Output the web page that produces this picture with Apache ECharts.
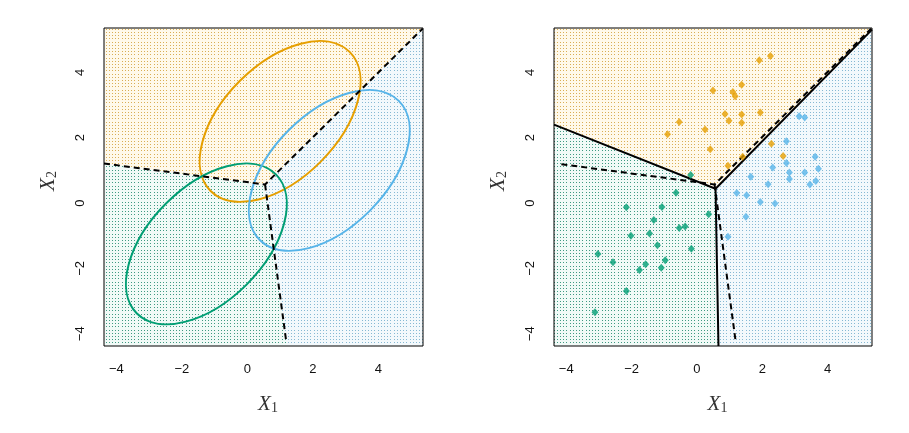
<!DOCTYPE html>
<html><head><meta charset="utf-8">
<script src="https://cdn.jsdelivr.net/npm/echarts@6/dist/echarts.min.js"></script>
<style>html,body{margin:0;padding:0;background:#fff}#c{width:909px;height:433px}</style>
</head><body><div id="c"></div>
<script>
// ---------- data ----------
const AXIS_MIN = -4.375, AXIS_MAX = 5.36;
const tickValues = [-4, -2, 0, 2, 4];

const ORANGE = '#E69F00', GREEN = '#009E73', BLUE = '#56B4E9';

// Left panel: class density contours (centers: orange, green, blue)
const ellipseCenters = [[1.0, 2.5], [-1.25, -1.25], [2.5, 1.0]];
const ellipseColors = [ORANGE, GREEN, BLUE];
const ellipseSemiAxes = [3.0, 1.75];   // major, minor (data units)
const ellipseTiltDeg = 45;

// Bayes decision boundaries (dashed)
const bayesUpperA = [[-4.375, 1.21], [0.54, 0.57], [5.35, 5.34]];
const bayesDownA  = [[0.54, 0.57], [1.18, -4.19]];
const bayesUpperB = [[-4.15, 1.19], [0.54, 0.57], [5.33, 5.34]];
const bayesDownB  = [[0.54, 0.57], [1.18, -4.19]];

// LDA decision boundaries (solid, right panel)
const ldaUpper = [[-4.375, 2.40], [0.57, 0.44], [5.36, 5.31]];
const ldaDown  = [[0.57, 0.44], [0.66, -4.375]];

// Region polygons, left panel (Bayes)
const regionOrangeA = [[-4.375, 5.36], [-4.375, 1.21], [0.54, 0.57], [5.36, 5.36]];
const regionGreenA  = [[-4.375, 1.21], [0.54, 0.57], [1.205, -4.375], [-4.375, -4.375]];
const regionBlueA   = [[0.54, 0.57], [5.36, 5.36], [5.36, -4.375], [1.205, -4.375]];
// Region polygons, right panel (LDA)
const regionOrangeB = [[-4.375, 5.36], [-4.375, 2.40], [0.57, 0.44], [5.36, 5.31], [5.36, 5.36]];
const regionGreenB  = [[-4.375, 2.40], [0.57, 0.44], [0.66, -4.375], [-4.375, -4.375]];
const regionBlueB   = [[0.57, 0.44], [5.36, 5.31], [5.36, -4.375], [0.66, -4.375]];

// Observations, right panel
const orangePts = [[2.25,4.50],[1.91,4.37],[0.49,3.45],[1.10,3.40],[1.17,3.27],[1.37,3.62],
  [-0.54,2.48],[0.86,2.73],[0.98,2.52],[1.37,2.71],[1.37,2.46],[1.94,2.77],[-0.90,2.11],
  [0.25,2.25],[0.41,1.65],[2.28,1.82],[2.64,1.44],[0.95,1.14],[1.40,1.42]];
const greenPts = [[-0.19,0.86],[-0.64,0.32],[-2.16,-0.13],[-1.07,-0.12],[0.36,-0.34],
  [-1.32,-0.52],[-1.45,-0.93],[-2.02,-1.00],[-0.54,-0.76],[-0.36,-0.72],[-1.21,-1.29],
  [-0.17,-1.40],[-3.03,-1.56],[-2.57,-1.81],[-1.57,-1.87],[-0.97,-1.75],[-1.76,-2.05],
  [-1.09,-1.98],[-2.16,-2.69],[-3.12,-3.34]];
const bluePts = [[3.13,2.66],[3.30,2.62],[2.74,1.89],[3.62,1.42],[2.32,1.09],[2.74,1.23],
  [2.83,0.94],[2.83,0.74],[3.30,0.94],[3.72,1.05],[3.64,0.68],[3.46,0.57],[1.65,0.81],
  [2.18,0.58],[1.22,0.31],[1.52,0.24],[1.94,0.03],[2.39,-0.01],[1.50,-0.42],[0.95,-1.03]];

// ---------- styling helpers ----------
function makePattern(bg, dot) {
  const c = document.createElement('canvas');
  c.width = 16; c.height = 16;
  const g = c.getContext('2d');
  g.fillStyle = bg; g.fillRect(0, 0, 16, 16);
  g.fillStyle = dot;
  const offs = [0, 3, 6, 10, 13];
  for (const a of offs) for (const b of offs) g.fillRect(a, b, 1, 1);
  return { image: c, repeat: 'repeat' };
}
const patOrange = makePattern('#fff9ea', '#d9ae55');
const patGreen  = makePattern('#f1faf7', '#3f9a82');
const patBlue   = makePattern('#f3f9fc', '#86b9d3');

function regionSeries(gi, verts, fill) {
  return {
    type: 'custom', xAxisIndex: gi, yAxisIndex: gi, silent: true, z: 1, animation: false,
    data: verts, encode: { x: 0, y: 1 },
    renderItem(params, api) {
      if (params.dataIndex !== 0) return null;
      return { type: 'polygon', shape: { points: verts.map(v => api.coord(v)) },
               style: { fill: fill, stroke: null } };
    }
  };
}
function lineSeries(gi, pts, dashed) {
  return {
    type: 'line', xAxisIndex: gi, yAxisIndex: gi, data: pts, symbol: 'none', silent: true,
    animation: false, z: 4,
    lineStyle: { color: '#000', width: 2, type: dashed ? [6, 4] : 'solid' }
  };
}
function scatterSeries(pts, color) {
  return {
    type: 'scatter', xAxisIndex: 1, yAxisIndex: 1, data: pts, symbol: 'diamond',
    symbolSize: [7, 8], itemStyle: { color: color }, z: 5, animation: false, silent: true
  };
}
const richName = {
  i: { fontFamily: 'Liberation Serif', fontStyle: 'italic', fontSize: 21, color: '#333', lineHeight: 26, verticalAlign: 'bottom' },
  s: { fontFamily: 'Liberation Serif', fontSize: 14, color: '#333', lineHeight: 14, verticalAlign: 'bottom' }
};
function fmt(v) { return String(v).replace('-', '\u2212'); }
function xAxis(gi) {
  return {
    type: 'value', gridIndex: gi, min: AXIS_MIN, max: AXIS_MAX,
    name: '{i|X}{s|1}', nameLocation: 'middle', nameGap: 43,
    nameTextStyle: { rich: richName, padding: [0, 0, 0, 9] },
    axisLine: { show: false },
    axisTick: { show: true, length: 7, customValues: tickValues, lineStyle: { color: '#000', width: 1 } },
    axisLabel: { customValues: tickValues, margin: 17, color: '#111', fontSize: 13, fontFamily: 'Liberation Sans', formatter: fmt },
    splitLine: { show: false }
  };
}
function yAxis(gi) {
  return {
    type: 'value', gridIndex: gi, min: AXIS_MIN, max: AXIS_MAX,
    name: '{i|X}{s|2}', nameLocation: 'middle', nameGap: 45,
    nameTextStyle: { rich: richName, padding: [0, 0, 0, 12] },
    axisLine: { show: false },
    axisTick: { show: true, length: 7, customValues: tickValues, lineStyle: { color: '#000', width: 1 } },
    axisLabel: { customValues: tickValues, margin: 17, rotate: 90, color: '#111', fontSize: 13, fontFamily: 'Liberation Sans', formatter: fmt },
    splitLine: { show: false }
  };
}

const chart = echarts.init(document.getElementById('c'), null, { renderer: 'canvas' });
chart.setOption({
  animation: false,
  backgroundColor: '#fff',
  grid: [
    { left: 104, top: 28, width: 319, height: 318, show: true, borderColor: '#000', borderWidth: 1, backgroundColor: 'transparent', z: 10 },
    { left: 554, top: 28, width: 318, height: 318, show: true, borderColor: '#000', borderWidth: 1, backgroundColor: 'transparent', z: 10 }
  ],
  xAxis: [xAxis(0), xAxis(1)],
  yAxis: [yAxis(0), yAxis(1)],
  series: [
    regionSeries(0, regionOrangeA, patOrange),
    regionSeries(0, regionGreenA, patGreen),
    regionSeries(0, regionBlueA, patBlue),
    regionSeries(1, regionOrangeB, patOrange),
    regionSeries(1, regionGreenB, patGreen),
    regionSeries(1, regionBlueB, patBlue),
    {
      type: 'custom', xAxisIndex: 0, yAxisIndex: 0, z: 3, silent: true, animation: false,
      data: ellipseCenters.map((c, i) => [c[0], c[1], i]), encode: { x: 0, y: 1 },
      renderItem(params, api) {
        const c = api.coord([api.value(0), api.value(1)]);
        const rx = api.size([ellipseSemiAxes[0], 0])[0];
        const ry = api.size([0, ellipseSemiAxes[1]])[1];
        return { type: 'ellipse', x: c[0], y: c[1], rotation: ellipseTiltDeg * Math.PI / 180,
                 shape: { cx: 0, cy: 0, rx: rx, ry: ry },
                 style: { fill: 'none', stroke: ellipseColors[api.value(2)], lineWidth: 2 } };
      }
    },
    lineSeries(0, bayesUpperA, true),
    lineSeries(0, bayesDownA, true),
    lineSeries(1, bayesUpperB, true),
    lineSeries(1, bayesDownB, true),
    lineSeries(1, ldaUpper, false),
    lineSeries(1, ldaDown, false),
    scatterSeries(orangePts, ORANGE),
    scatterSeries(greenPts, GREEN),
    scatterSeries(bluePts, BLUE)
  ]
});
</script>
</body></html>
